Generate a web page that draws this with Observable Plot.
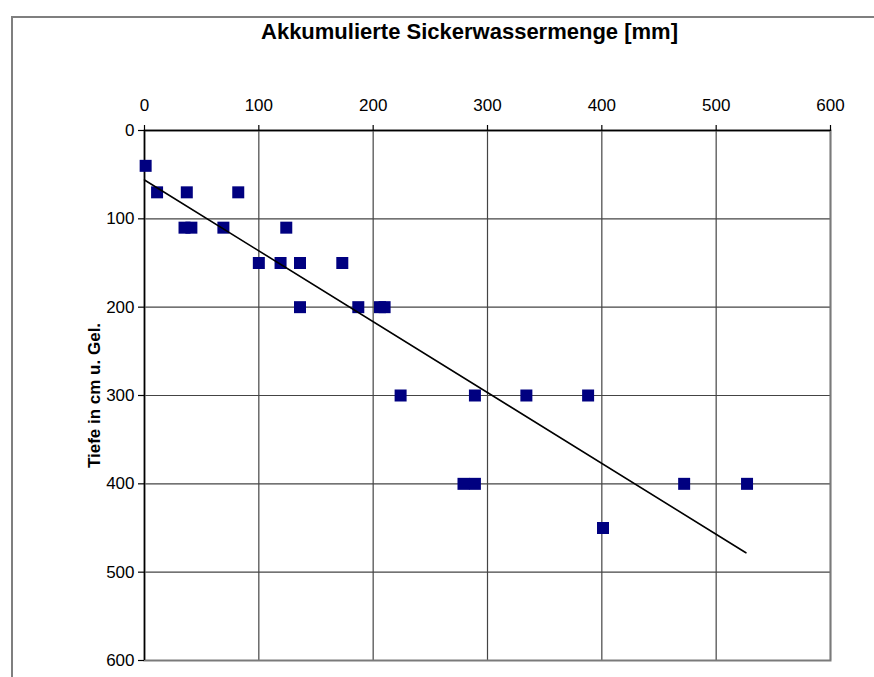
<!DOCTYPE html>
<html>
<head>
<meta charset="utf-8">
<script src="https://cdn.jsdelivr.net/npm/d3@7"></script>
<script src="https://cdn.jsdelivr.net/npm/@observablehq/plot@0.6"></script>
<style>
  html, body { margin: 0; padding: 0; background: #fff; overflow: hidden; }
  #wrap { position: relative; width: 874px; height: 677px; overflow: hidden; }
  #border { position: absolute; left: 11px; top: 16px; width: 900px; height: 700px;
            border-top: 2px solid #7f7f7f; border-left: 2px solid #7f7f7f; }
  #chart { position: absolute; left: 0; top: 0; }
</style>
</head>
<body>
<div id="wrap"><div id="border"></div><div id="chart"></div></div>
<script>
// Data
const sickerwasser = [1, 11, 37, 82, 35, 41, 69, 124, 100, 119, 136, 173, 136, 187, 206, 210, 224, 289, 334, 388, 279, 289, 472, 527, 401];
const tiefe        = [40, 70, 70, 70, 110, 110, 110, 110, 150, 150, 150, 150, 200, 200, 200, 200, 300, 300, 300, 300, 400, 400, 400, 400, 450];
// linear trend line end points
const trendX = [0, 526];
const trendY = [56, 478];
const xTicks = [0, 100, 200, 300, 400, 500, 600];
const yTicks = [0, 100, 200, 300, 400, 500, 600];
const titleText = "Akkumulierte Sickerwassermenge [mm]";
const yLabelText = "Tiefe in cm u. Gel.";

const points = sickerwasser.map((x, i) => ({x, y: tiefe[i]}));
const trend = trendX.map((x, i) => ({x, y: trendY[i]}));

const font = "'Liberation Sans', Arial, sans-serif";

const chart = Plot.plot({
  width: 874,
  height: 677,
  marginLeft: 144,
  marginRight: 44,
  marginTop: 130,
  marginBottom: 17,
  style: {fontFamily: font, fontSize: "17px", color: "#000", background: "transparent", overflow: "visible"},
  x: {domain: [0, 600], axis: null},
  y: {domain: [0, 600], reverse: true, axis: null},
  marks: [
    Plot.gridX(xTicks, {stroke: "#444", strokeOpacity: 1, strokeWidth: 1.2}),
    Plot.gridY(yTicks, {stroke: "#444", strokeOpacity: 1, strokeWidth: 1.2}),
    Plot.frame({stroke: "#7a7a7a", strokeWidth: 2}),
    Plot.ruleY([0], {stroke: "#000", strokeWidth: 1.3}),
    Plot.ruleX([0], {stroke: "#000", strokeWidth: 1.3}),
    Plot.axisX(xTicks, {anchor: "top", tickSize: 6, tickPadding: 14, fontSize: 17, label: null, stroke: "#000", strokeWidth: 1.2}),
    Plot.axisY(yTicks, {anchor: "left", tickSize: 6, tickPadding: 4, fontSize: 17, label: null, stroke: "#000", strokeWidth: 1.2}),
    Plot.dot(points, {x: "x", y: "y", symbol: "square", r: 6.77, fill: "#000080", stroke: null}),
    Plot.line(trend, {x: "x", y: "y", stroke: "#000", strokeWidth: 1.6}),
    Plot.text([titleText], {frameAnchor: "top", dx: -18, dy: -92, lineAnchor: "bottom", fontSize: 22, fontWeight: "bold", fill: "#000"}),
    Plot.text([yLabelText], {frameAnchor: "left", dx: -45, rotate: -90, lineAnchor: "bottom", textAnchor: "middle", fontSize: 17, fontWeight: "bold", fill: "#000"})
  ]
});
document.getElementById("chart").appendChild(chart);
</script>
</body>
</html>
